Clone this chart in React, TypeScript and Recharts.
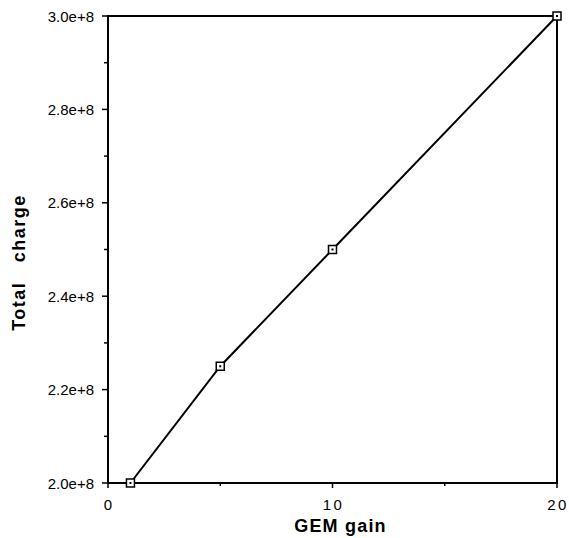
import React from 'react';
import {
  LineChart,
  Line,
  XAxis,
  YAxis,
  ReferenceArea,
} from 'recharts';

const gemGain = [1, 5, 10, 20];
const totalCharge = [2.0e8, 2.25e8, 2.5e8, 3.0e8];

const xTicks = [0, 5, 10, 15, 20];
const xLabels = ['0', '', '10', '', '20'];
const yTicks = [2.0e8, 2.1e8, 2.2e8, 2.3e8, 2.4e8, 2.5e8, 2.6e8, 2.7e8, 2.8e8, 2.9e8, 3.0e8];
const yLabels = ['2.0e+8', '', '2.2e+8', '', '2.4e+8', '', '2.6e+8', '', '2.8e+8', '', '3.0e+8'];

const data = gemGain.map((g, i) => ({ gain: g, charge: totalCharge[i] }));

const font = '"Liberation Sans", Arial, sans-serif';

const XTick = (props: any) => {
  const { x, y, index } = props;
  const label = xLabels[index];
  const spaced = label.length > 1;
  return (
    <g>
      <line x1={x} x2={x} y1={y - 1} y2={label ? y + 5 : y + 3} stroke="#000" strokeWidth={1.5} />
      {label && (
        <text x={spaced ? x + 1 : x} y={y + 27} textAnchor="middle" fontSize={15} fontFamily={font} fill="#000"
          letterSpacing={spaced ? 2.5 : 0}>
          {label}
        </text>
      )}
    </g>
  );
};

const YTick = (props: any) => {
  const { x, y, index } = props;
  const label = yLabels[index];
  return (
    <g>
      <line x1={x + 1} x2={label ? x - 6 : x - 4} y1={y} y2={y} stroke="#000" strokeWidth={1.5} />
      {label && (
        <text x={x - 14} y={y + 5.5} textAnchor="end" fontSize={15} fontFamily={font} fill="#000">
          {label}
        </text>
      )}
    </g>
  );
};

const SquareDot = (props: any) => {
  const { cx, cy } = props;
  return (
    <g>
      <rect x={cx - 4} y={cy - 4} width={8} height={8} fill="#fff" stroke="#000" strokeWidth={1.5} />
      <rect x={cx - 1} y={cy - 1} width={2} height={2} fill="#000" />
    </g>
  );
};

const XTitle = (props: any) => {
  const { viewBox } = props;
  const cx = viewBox.x + viewBox.width / 2 + 8;
  return (
    <text x={cx} y={viewBox.y + 49} textAnchor="middle" fontSize={18} fontWeight="bold" fontFamily={font} fill="#000" letterSpacing={1.2}>
      GEM gain
    </text>
  );
};

const YTitle = (props: any) => {
  const { viewBox } = props;
  const cx = 19;
  const cy = viewBox.y + viewBox.height / 2 + 13;
  return (
    <text x={cx} y={cy} transform={`rotate(-90 ${cx} ${cy})`} textAnchor="middle" dominantBaseline="central"
      fontSize={18} fontWeight="bold" fontFamily={font} fill="#000" letterSpacing={1.5} style={{ whiteSpace: 'pre' }}>
      {'Total   charge'}
    </text>
  );
};

export default function App() {
  return (
    <div style={{ position: 'absolute', left: 0, top: 0, width: 569, height: 538 }}>
      <LineChart width={569} height={538} data={data} margin={{ top: 16, right: 12, left: 0, bottom: 0 }}
        style={{ overflow: 'visible' }}>
        <XAxis
          dataKey="gain"
          type="number"
          domain={[0, 20]}
          ticks={xTicks}
          tick={<XTick />}
          tickLine={false}
          tickSize={0}
          tickMargin={0}
          axisLine={false}
          height={55}
          label={<XTitle />}
        />
        <YAxis
          type="number"
          domain={[2.0e8, 3.0e8]}
          ticks={yTicks}
          tick={<YTick />}
          tickLine={false}
          tickSize={0}
          tickMargin={0}
          axisLine={false}
          width={108}
          label={<YTitle />}
        />
        <ReferenceArea x1={0} x2={20} y1={2.0e8} y2={3.0e8} fill="none" stroke="#000" strokeWidth={2} ifOverflow="visible" />
        <Line
          type="linear"
          dataKey="charge"
          stroke="#000"
          strokeWidth={2}
          dot={<SquareDot />}
          isAnimationActive={false}
        />
      </LineChart>
    </div>
  );
}
